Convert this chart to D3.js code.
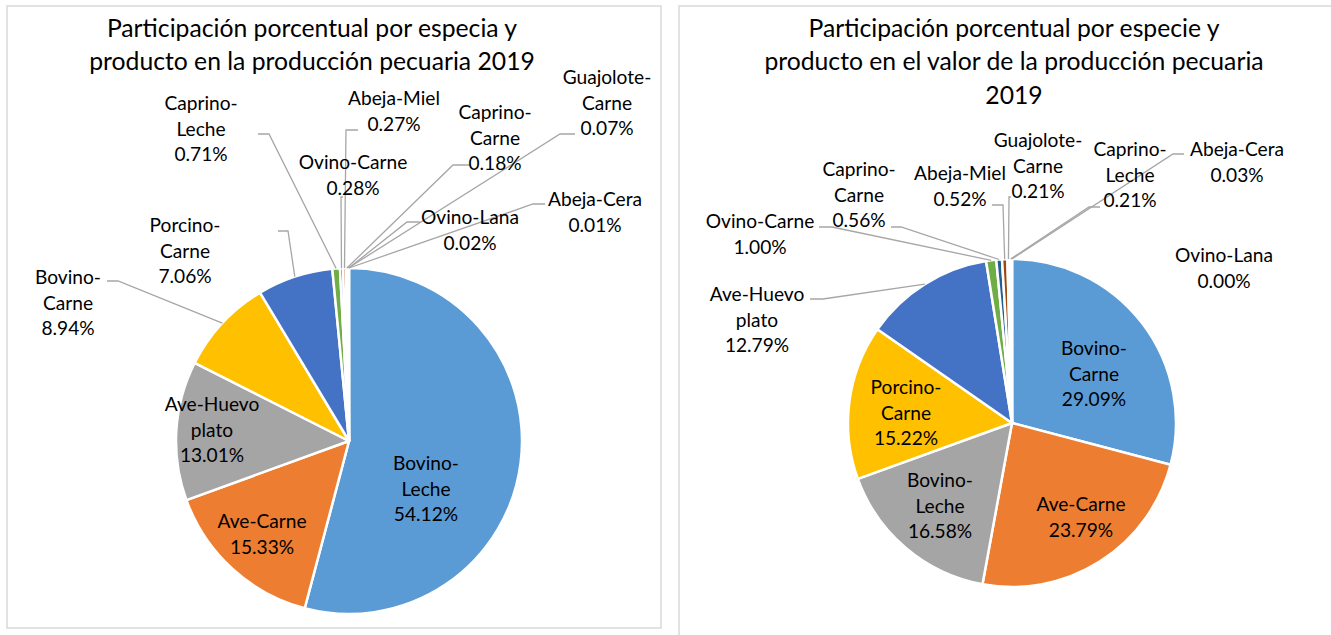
<!DOCTYPE html>
<html>
<head>
<meta charset="utf-8">
<script src="https://cdn.jsdelivr.net/npm/d3@7"></script>
<style>
	body { margin: 0; background: #fff; }
	svg { display: block; font-family: Lato, "Open Sans", sans-serif; }
</style>
</head>
<body>
<div id="chart"></div>
<script>
// chart data
var cats1 = ["Bovino-Leche", "Ave-Carne", "Ave-Huevo plato", "Bovino-Carne", "Porcino-Carne", "Caprino-Leche",
	"Ovino-Carne", "Abeja-Miel", "Caprino-Carne", "Guajolote-Carne", "Ovino-Lana", "Abeja-Cera"];
var vals1 = [54.12, 15.33, 13.01, 8.94, 7.06, 0.71, 0.28, 0.27, 0.18, 0.07, 0.02, 0.01];

var cats2 = ["Bovino-Carne", "Ave-Carne", "Bovino-Leche", "Porcino-Carne", "Ave-Huevo plato", "Ovino-Carne",
	"Caprino-Carne", "Abeja-Miel", "Guajolote-Carne", "Caprino-Leche", "Abeja-Cera", "Ovino-Lana"];
var vals2 = [29.09, 23.79, 16.58, 15.22, 12.79, 1.00, 0.56, 0.52, 0.21, 0.21, 0.03, 0.00];

var title1 = ["Participación porcentual por especia y", "producto en la producción pecuaria 2019"];
var title2 = ["Participación porcentual por especie y", "producto en el valor de la producción pecuaria", "2019"];

var palette = ["#5B9BD5", "#ED7D31", "#A5A5A5", "#FFC000", "#4472C4", "#70AD47",
	"#255E91", "#9E480E", "#636363", "#997300", "#264478", "#43682B"];

// label placement (offsets from the pie centre): t = first text line, p/e = leader start and elbow
var layout1 = [
	{t: [77, 22], brk: true},
	{t: [-87, 80]},
	{t: [-137, -37], brk: true},
	{t: [-281, -164], brk: true, p: [-242, -160], e: [-231, -160]},
	{t: [-164, -216], brk: true, p: [-71, -210], e: [-61, -210]},
	{t: [-148, -338], brk: true, p: [-91, -307], e: [-80, -307]},
	{t: [4, -279], p: [-6, -244], e: [-8, -244]},
	{t: [45, -343], p: [9, -311], e: [-3, -311]},
	{t: [146, -329], brk: true, p: [121, -276], e: [104, -276]},
	{t: [258, -364], brk: true, p: [226, -307], e: [211, -307]},
	{t: [121, -224], p: [71, -219], e: [58, -219]},
	{t: [246, -242], p: [196, -237], e: [184, -237]}
];
var layout2 = [
	{t: [82, -75], brk: true},
	{t: [69, 81]},
	{t: [-72, 57], brk: true},
	{t: [-106, -36], brk: true},
	{t: [-255, -129], brk: true, p: [-202, -124], e: [-189, -124]},
	{t: [-252, -202], p: [-193, -196], e: [-180, -196]},
	{t: [-153, -254], brk: true, p: [-121, -196], e: [-111, -196]},
	{t: [-52, -250], p: [-20, -218], e: [-9, -218]},
	{t: [26, -283], brk: true, p: [-1, -226], e: [-3, -226]},
	{t: [118, -274], brk: true, p: [88, -216], e: [77, -216]},
	{t: [225, -274], p: [172, -269], e: [161, -269]},
	{t: [212, -168]}
];

var W = 1331, H = 635;
var svg = d3.select("#chart").append("svg")
	.attr("width", W)
	.attr("height", H);

// fit the substitute font to the widths seen in the picture
function fitSize(str, target) {
	var t = svg.append("text").style("font-size", "100px").text(str);
	var w = t.node().getComputedTextLength();
	t.remove();
	return 100 * target / w;
}
var titleSize = fitSize(title1[1], 446);
var labelSize = fitSize("Ovino-Lana", 98);

var fmt = d3.format(".2f");

function splitName(name, brk) {
	if (!brk) return [name];
	var i = name.indexOf(" ");
	if (i > 0) return [name.slice(0, i), name.slice(i + 1)];
	i = name.indexOf("-");
	return [name.slice(0, i + 1), name.slice(i + 1)];
}

function drawPanel(opt) {
	var g = svg.append("g");

	g.append("rect")
		.attr("x", opt.box[0])
		.attr("y", opt.box[1])
		.attr("width", opt.box[2])
		.attr("height", opt.box[3])
		.attr("fill", "#fff")
		.attr("stroke", "#d9d9d9")
		.attr("stroke-width", 1.5);

	g.append("text")
		.attr("text-anchor", "middle")
		.style("font-size", titleSize + "px")
		.attr("fill", "#000")
		.selectAll("tspan")
		.data(opt.title)
		.enter().append("tspan")
		.attr("x", opt.titleX)
		.attr("y", function (d, i) { return opt.titleY + i * 33.5; })
		.attr("dy", "0.35em")
		.text(function (d) { return d; });

	var data = opt.cats.map(function (c, i) {
		return {name: c, value: opt.vals[i], color: palette[i], lay: opt.layout[i]};
	});

	var pie = d3.pie()
		.sort(null)
		.value(function (d) { return d.value; });
	var arcs = pie(data);

	var arc = d3.arc().innerRadius(0).outerRadius(opt.r);
	var edge = d3.arc().innerRadius(opt.r).outerRadius(opt.r);

	var pg = g.append("g")
		.attr("transform", "translate(" + opt.cx + "," + opt.cy + ")");

	pg.selectAll("path.slice")
		.data(arcs)
		.enter().append("path")
		.attr("class", "slice")
		.attr("d", arc)
		.attr("fill", function (d) { return d.data.color; })
		.attr("stroke", "#fff")
		.attr("stroke-width", 2.5)
		.attr("stroke-linejoin", "round");

	// leader lines for the labels placed outside
	pg.selectAll("polyline.leader")
		.data(arcs.filter(function (d) { return d.data.lay.p; }))
		.enter().append("polyline")
		.attr("class", "leader")
		.attr("fill", "none")
		.attr("stroke", "#a6a6a6")
		.attr("stroke-width", 1.3)
		.attr("points", function (d) {
			var L = d.data.lay;
			var end = edge.centroid(d);
			return [L.p, L.e, end].map(function (q) { return q.join(","); }).join(" ");
		});

	var lab = pg.selectAll("text.lab")
		.data(arcs)
		.enter().append("text")
		.attr("class", "lab")
		.attr("text-anchor", "middle")
		.attr("fill", "#000")
		.style("font-size", labelSize + "px");

	lab.selectAll("tspan")
		.data(function (d) {
			var lines = splitName(d.data.name, d.data.lay.brk);
			lines.push(fmt(d.data.value) + "%");
			return lines.map(function (s) { return {s: s, t: d.data.lay.t}; });
		})
		.enter().append("tspan")
		.attr("x", function (d) { return d.t[0]; })
		.attr("y", function (d, i) { return d.t[1] + i * 25.8; })
		.attr("dy", "0.35em")
		.text(function (d) { return d.s; });
}

drawPanel({
	box: [7, 6, 654, 622],
	title: title1, titleX: 312, titleY: 28,
	cats: cats1, vals: vals1, layout: layout1,
	cx: 349, cy: 441, r: 173
});

drawPanel({
	box: [679, 6, 680, 660],
	title: title2, titleX: 1014, titleY: 28,
	cats: cats2, vals: vals2, layout: layout2,
	cx: 1012, cy: 423, r: 164
});
</script>
</body>
</html>
